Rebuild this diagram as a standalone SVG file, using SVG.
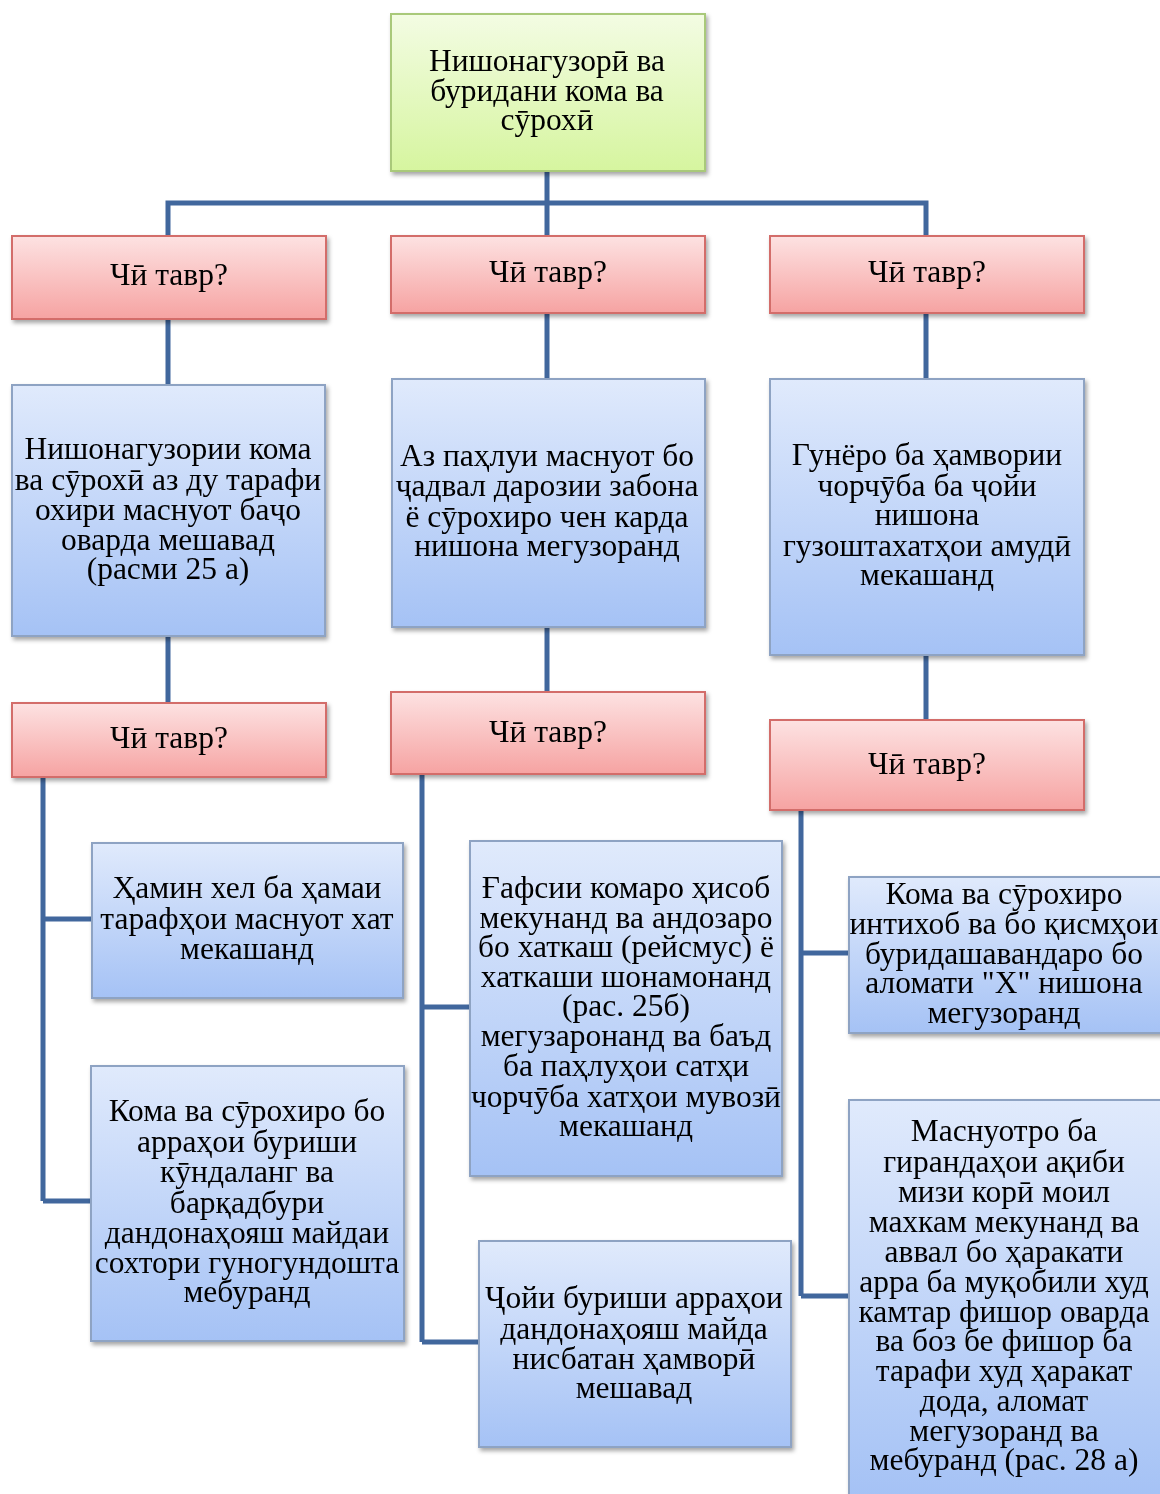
<svg xmlns="http://www.w3.org/2000/svg" width="1160" height="1494" viewBox="0 0 1160 1494">
<style>
.t{font-family:"Liberation Serif","DejaVu Serif",serif;font-size:31.5px;fill:#000;text-anchor:middle}
.c{stroke:#41679d;stroke-width:5;fill:none}
.g{fill:url(#gg);stroke:#a9c97a;stroke-width:2}
.r{fill:url(#gr);stroke:#d36d6b;stroke-width:2}
.b{fill:url(#gb);stroke:#8ea3c3;stroke-width:2}
</style>
<defs>
<linearGradient id="gg" x1="0" y1="0" x2="0" y2="1"><stop offset="0" stop-color="#f3fce3"/><stop offset="1" stop-color="#d6f59f"/></linearGradient>
<linearGradient id="gr" x1="0" y1="0" x2="0" y2="1"><stop offset="0" stop-color="#fde2e2"/><stop offset="1" stop-color="#f6a3a2"/></linearGradient>
<linearGradient id="gb" x1="0" y1="0" x2="0" y2="1"><stop offset="0" stop-color="#e0eafc"/><stop offset="1" stop-color="#a5c2f5"/></linearGradient>
<filter id="sh" x="-10%" y="-10%" width="125%" height="125%"><feDropShadow dx="2" dy="3" stdDeviation="2" flood-color="#000" flood-opacity="0.35"/></filter>
</defs>
<rect width="1160" height="1494" fill="#fff"/>
<g id="connectors">
<path class="c" d="M547 171V203M168 236V203H926V236M547 203V236"/>
<path class="c" d="M168 319V385M547 313V379M926 313V379"/>
<path class="c" d="M168 636V703M547 627V692M926 655V720"/>
<path class="c" d="M43 777V1201M43 919H92M43 1201H92"/>
<path class="c" d="M422 774V1342M422 1007H470M422 1342H479"/>
<path class="c" d="M801 810V1296M801 953H849M801 1296H849"/>
</g>
<g id="n0" filter="url(#sh)"><rect class="g" x="391" y="14" width="314" height="157"/>
<text class="t" x="547"><tspan x="547" y="71">Нишонагузорӣ ва</tspan><tspan x="547" y="101">буридани кома ва</tspan><tspan x="547" y="130">сӯрохӣ</tspan></text></g>
<g id="n1" filter="url(#sh)"><rect class="r" x="12" y="236" width="314" height="83"/><text class="t" x="169" y="285">Чӣ тавр?</text></g>
<g id="n2" filter="url(#sh)"><rect class="r" x="391" y="236" width="314" height="77"/><text class="t" x="548" y="282">Чӣ тавр?</text></g>
<g id="n3" filter="url(#sh)"><rect class="r" x="770" y="236" width="314" height="77"/><text class="t" x="927" y="282">Чӣ тавр?</text></g>
<g id="n4" filter="url(#sh)"><rect class="b" x="12" y="385" width="313" height="251"/>
<text class="t"><tspan x="168" y="459">Нишонагузории кома</tspan><tspan x="168" y="490">ва сӯрохӣ аз ду тарафи</tspan><tspan x="168" y="520">охири маснуот баҷо</tspan><tspan x="168" y="550">оварда мешавад</tspan><tspan x="168" y="579">(расми 25 а)</tspan></text></g>
<g id="n5" filter="url(#sh)"><rect class="b" x="392" y="379" width="313" height="248"/>
<text class="t"><tspan x="547" y="466">Аз паҳлуи маснуот бо</tspan><tspan x="547" y="496">ҷадвал дарозии забона</tspan><tspan x="547" y="527">ё сӯрохиро чен карда</tspan><tspan x="547" y="556">нишона мегузоранд</tspan></text></g>
<g id="n6" filter="url(#sh)"><rect class="b" x="770" y="379" width="314" height="276"/>
<text class="t"><tspan x="927" y="465">Гунёро ба ҳамвории</tspan><tspan x="927" y="496">чорчӯба ба ҷойи</tspan><tspan x="927" y="525">нишона</tspan><tspan x="927" y="556">гузоштахатҳои амудӣ</tspan><tspan x="927" y="585">мекашанд</tspan></text></g>
<g id="n7" filter="url(#sh)"><rect class="r" x="12" y="703" width="314" height="74"/><text class="t" x="169" y="748">Чӣ тавр?</text></g>
<g id="n8" filter="url(#sh)"><rect class="r" x="391" y="692" width="314" height="82"/><text class="t" x="548" y="742">Чӣ тавр?</text></g>
<g id="n9" filter="url(#sh)"><rect class="r" x="770" y="720" width="314" height="90"/><text class="t" x="927" y="774">Чӣ тавр?</text></g>
<g id="n10" filter="url(#sh)"><rect class="b" x="92" y="843" width="311" height="155"/>
<text class="t"><tspan x="247" y="898">Ҳамин хел ба ҳамаи</tspan><tspan x="247" y="929">тарафҳои маснуот хат</tspan><tspan x="247" y="959">мекашанд</tspan></text></g>
<g id="n11" filter="url(#sh)"><rect class="b" x="91" y="1066" width="313" height="275"/>
<text class="t"><tspan x="247" y="1121">Кома ва сӯрохиро бо</tspan><tspan x="247" y="1152">арраҳои буриши</tspan><tspan x="247" y="1182">кӯндаланг ва</tspan><tspan x="247" y="1213">барқадбури</tspan><tspan x="247" y="1243">дандонаҳояш майдаи</tspan><tspan x="247" y="1273">сохтори гуногундошта</tspan><tspan x="247" y="1302">мебуранд</tspan></text></g>
<g id="n12" filter="url(#sh)"><rect class="b" x="470" y="841" width="312" height="335"/>
<text class="t"><tspan x="626" y="898">Ғафсии комаро ҳисоб</tspan><tspan x="626" y="928">мекунанд ва андозаро</tspan><tspan x="626" y="957">бо хаткаш (рейсмус) ё</tspan><tspan x="626" y="987">хаткаши шонамонанд</tspan><tspan x="626" y="1016">(рас. 25б)</tspan><tspan x="626" y="1046">мегузаронанд ва баъд</tspan><tspan x="626" y="1076">ба паҳлуҳои сатҳи</tspan><tspan x="626" y="1107">чорчӯба хатҳои мувозӣ</tspan><tspan x="626" y="1136">мекашанд</tspan></text></g>
<g id="n13" filter="url(#sh)"><rect class="b" x="479" y="1241" width="312" height="206"/>
<text class="t"><tspan x="634" y="1308">Ҷойи буриши арраҳои</tspan><tspan x="634" y="1339">дандонаҳояш майда</tspan><tspan x="634" y="1369">нисбатан ҳамворӣ</tspan><tspan x="634" y="1398">мешавад</tspan></text></g>
<g id="n14" filter="url(#sh)"><rect class="b" x="849" y="877" width="313" height="156"/>
<text class="t"><tspan x="1004" y="904">Кома ва сӯрохиро</tspan><tspan x="1004" y="934">интихоб ва бо қисмҳои</tspan><tspan x="1004" y="964">буридашавандаро бо</tspan><tspan x="1004" y="993">аломати "X" нишона</tspan><tspan x="1004" y="1023">мегузоранд</tspan></text></g>
<g id="n15" filter="url(#sh)"><rect class="b" x="849" y="1100" width="313" height="396"/>
<text class="t"><tspan x="1004" y="1141">Маснуотро ба</tspan><tspan x="1004" y="1172">гирандаҳои ақиби</tspan><tspan x="1004" y="1202">мизи корӣ моил</tspan><tspan x="1004" y="1232">махкам мекунанд ва</tspan><tspan x="1004" y="1262">аввал бо ҳаракати</tspan><tspan x="1004" y="1292">арра ба муқобили худ</tspan><tspan x="1004" y="1322">камтар фишор оварда</tspan><tspan x="1004" y="1351">ва боз бе фишор ба</tspan><tspan x="1004" y="1381">тарафи худ ҳаракат</tspan><tspan x="1004" y="1411">дода, аломат</tspan><tspan x="1004" y="1441">мегузоранд ва</tspan><tspan x="1004" y="1470">мебуранд (рас. 28 а)</tspan></text></g>
</svg>
